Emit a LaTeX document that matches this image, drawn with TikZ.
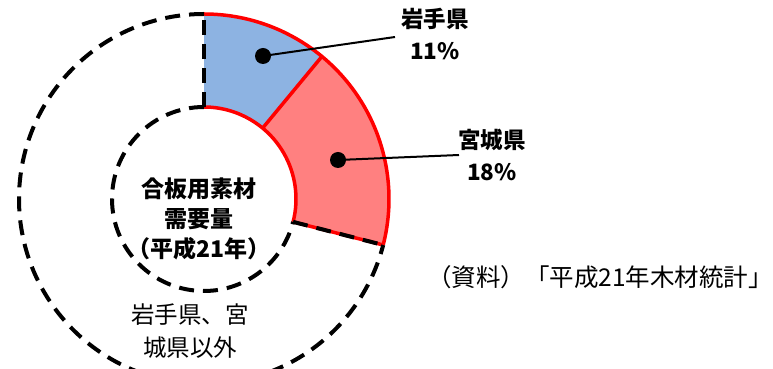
\documentclass[tikz,border=0pt]{standalone}
\usepackage{fontspec}
\setmainfont{Noto Sans CJK JP}
\def\rin{92pt}
\def\rout{185pt}
\def\iwatepart{(90:\rin) arc[start angle=90,end angle=50.4,radius=\rin] -- (50.4:\rout) arc[start angle=50.4,end angle=90,radius=\rout] -- cycle}
\def\miyagipart{(50.4:\rin) arc[start angle=50.4,end angle=-14.4,radius=\rin] -- (-14.4:\rout) arc[start angle=-14.4,end angle=50.4,radius=\rout] -- cycle}
\definecolor{iwate area}{RGB}{141,179,226}
\definecolor{miyagi area}{RGB}{255,128,128}
\definecolor{part edge}{RGB}{255,0,0}
\tikzset{red edge/.style={draw=part edge, line width=3.5pt},
	rest edge/.style={draw=black, line width=4pt, dash pattern=on 15pt off 9pt},
	dot/.style={circle, fill=black, inner sep=0pt, minimum size=16pt},
	leader/.style={draw=black, line width=2pt},
	pct label/.style={font=\fontsize{22.5}{32}\selectfont\bfseries, align=center},
	centre text/.style={font=\fontsize{23}{30}\selectfont\bfseries, align=center},
	rest text/.style={font=\fontsize{23.5}{33}\selectfont, align=center}}

\begin{document}
\begin{tikzpicture}[x=1pt,y=1pt]
		\useasboundingbox (0,0) rectangle (773,369);
		\clip (0,0) rectangle (773,369);
		\begin{scope}[shift={(204,170)}]
		\fill[iwate area] \iwatepart;
		\fill[miyagi area] \miyagipart;
		
		\draw[red edge] (90:\rin) arc[start angle=90,end angle=-14.4,radius=\rin];
		\draw[red edge] (90:\rout) arc[start angle=90,end angle=-14.4,radius=\rout];
		\draw[red edge] (50.4:\rin) -- (50.4:\rout);
		\draw[red edge] (-14.4:\rin) -- (-14.4:\rout);
		
		\draw[rest edge] (90:\rin) arc[start angle=90,end angle=345.6,radius=\rin];
		\draw[rest edge] (90:\rout) arc[start angle=90,end angle=345.6,radius=\rout];
		\draw[rest edge] (90:\rin) -- (90:\rout);
		\draw[rest edge] (-14.4:\rin) -- (-14.4:\rout);
		\end{scope}
		
		\node[dot] (iwate dot) at (263,313) {};
		\coordinate (iwate end) at (395,332);
		\node[pct label] (iwate label) at (435,335) {岩手県\\11\%};
		\draw[leader] (iwate dot.center) -- (iwate end);
		
		\node[dot] (miyagi dot) at (338,209) {};
		\coordinate (miyagi end) at (459,214);
		\node[pct label] (miyagi label) at (492,214) {宮城県\\18\%};
		\draw[leader] (miyagi dot.center) -- (miyagi end);
		
		\node[centre text] (total) at (199,150) {合板用素材\\需要量\\（平成21年）};
		\node[rest text] (rest) at (190,38) {岩手県、宮\\城県以外};
		\node[font=\fontsize{24.5}{28}\selectfont] (source) at (600,92) {（資料）「平成21年木材統計」};
		
		\end{tikzpicture}
\end{document}
